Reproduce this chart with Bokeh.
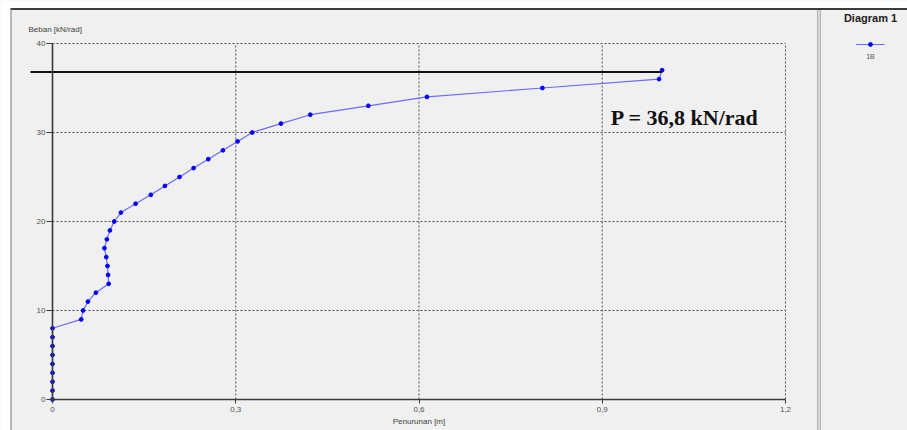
from bokeh.plotting import figure
from bokeh.models import Range1d, FixedTicker, LinearAxis, ColumnDataSource
from bokeh.core.properties import value
from bokeh.embed import file_html
from bokeh.resources import INLINE

# Load test curve: load (kN/rad) against settlement (m)
beban = [0, 1, 2, 3, 4, 5, 6, 7, 8, 9, 10, 11, 12, 13, 14, 15, 16, 17, 18, 19,
         20, 21, 22, 23, 24, 25, 26, 27, 28, 29, 30, 31, 32, 33, 34, 35, 36, 37]
penurunan = [0, 0, 0, 0, 0, 0, 0, 0, 0,
             0.047, 0.050, 0.058, 0.071, 0.092, 0.091, 0.090, 0.088, 0.085,
             0.089, 0.094, 0.101, 0.112, 0.136, 0.161, 0.184, 0.208, 0.231,
             0.255, 0.279, 0.303, 0.327, 0.374, 0.422, 0.517, 0.613, 0.802,
             0.993, 0.998]

ultimate_load = 36.8
ultimate_text = "P = 36,8 kN/rad"
series_name = "1B"
panel_title = "Diagram 1"

x_ticks = [0, 0.3, 0.6, 0.9, 1.2]
x_tick_labels = ["0", "0,3", "0,6", "0,9", "1,2"]
y_ticks = [0, 10, 20, 30, 40]
y_tick_labels = ["0", "10", "20", "30", "40"]

# canvas geometry (pixels) of the plotting area inside the window
W, H = 907, 430
FL, FR, FT, FB = 52, 785, 43, 399
X0, X1 = 0.0, 1.2
Y0, Y1 = 0.0, 40.0


def px_x(px):
    return X0 + (px - FL) * (X1 - X0) / (FR - FL)


def px_y(py):
    return Y0 + (FB - py) * (Y1 - Y0) / (FB - FT)


BG = "#f0f0f0"
p = figure(width=W, height=H, output_backend="svg", toolbar_location=None,
           x_range=Range1d(px_x(0), px_x(W)), y_range=Range1d(px_y(H), px_y(0)),
           x_axis_type=None, y_axis_type=None, min_border=0,
           background_fill_color=BG, border_fill_color=BG,
           outline_line_color=None)
p.xgrid.visible = False
p.ygrid.visible = False

# window chrome: white margins, frame lines, side panel divider
p.quad(left=[px_x(0), px_x(0)], right=[px_x(W), px_x(10)],
       top=[px_y(0), px_y(0)], bottom=[px_y(8), px_y(H)],
       fill_color="white", line_color=None)
p.segment(x0=[px_x(10), px_x(10.5)], x1=[px_x(W), px_x(10.5)],
          y0=[px_y(8.5), px_y(8)], y1=[px_y(8.5), px_y(H)],
          line_color=["#3c3c3c", "#7a7a7a"], line_width=[2, 1])
p.quad(left=[px_x(816.5)], right=[px_x(820.5)], top=[px_y(9.5)], bottom=[px_y(H)],
       fill_color="#d6d6d6", line_color=None)
p.segment(x0=[px_x(817), px_x(820)], x1=[px_x(817), px_x(820)],
          y0=[px_y(9.5), px_y(9.5)], y1=[px_y(H), px_y(H)],
          line_color="#b4b4b4", line_width=1)

# dotted grid over the plotting area
p.segment(x0=x_ticks[1:], x1=x_ticks[1:], y0=Y0, y1=Y1,
          line_color="#505050", line_dash="2 2", line_width=1)
p.segment(x0=X0, x1=X1, y0=y_ticks[1:], y1=y_ticks[1:],
          line_color="#505050", line_dash="2 2", line_width=1)

# axes pinned at the origin
xaxis = LinearAxis(fixed_location=0, bounds=(X0, X1),
                   ticker=FixedTicker(ticks=x_ticks))
yaxis = LinearAxis(fixed_location=0, bounds=(Y0, Y1),
                   ticker=FixedTicker(ticks=y_ticks))
xaxis.major_label_overrides = dict(zip(x_ticks, x_tick_labels))
yaxis.major_label_overrides = dict(zip(y_ticks, y_tick_labels))
for ax in (xaxis, yaxis):
    ax.axis_line_color = "#3a3a3a"
    ax.axis_line_width = 1.6
    ax.major_tick_line_color = "#3a3a3a"
    ax.major_tick_in = 0
    ax.minor_tick_line_color = None
    ax.major_label_text_font = "Liberation Sans"
    ax.major_label_text_font_size = "8px"
    ax.major_label_text_color = "#505050"
xaxis.major_tick_out = 4
xaxis.major_label_standoff = 3
yaxis.major_tick_out = 6
yaxis.major_label_standoff = 1
p.add_layout(xaxis, "below")
p.add_layout(yaxis, "left")

# axis titles
p.text(x=[px_x(28)], y=[px_y(29)], text=["Beban [kN/rad]"],
       text_font=value("Liberation Sans"), text_font_size="8px",
       text_color="#404040", text_baseline="middle")
p.text(x=[(X0 + X1) / 2], y=[px_y(421)], text=["Penurunan [m]"],
       text_font=value("Liberation Sans"), text_font_size="8px",
       text_color="#404040", text_baseline="middle", text_align="center")

# load-settlement curve
src = ColumnDataSource(dict(x=penurunan, y=beban))
p.line("x", "y", source=src, line_color="#6a6aff", line_width=1.2)
p.scatter("x", "y", source=src, size=3.8, marker="circle",
          fill_color="#0000ff", line_color="#0000ff")

# ultimate load line, running past the vertical axis
p.segment(x0=[px_x(30)], x1=[penurunan[-1]], y0=[ultimate_load], y1=[ultimate_load],
          line_color="#111111", line_width=2)
p.text(x=[0.914], y=[31.7], text=[ultimate_text],
       text_font=value("Liberation Serif"), text_font_style="bold",
       text_font_size="22px", text_color="#111111", text_baseline="alphabetic")

# side panel legend
p.text(x=[px_x(870)], y=[px_y(17)], text=[panel_title],
       text_font=value("Liberation Sans"), text_font_style="bold",
       text_font_size="11px", text_color="#202020",
       text_align="center", text_baseline="middle")
p.segment(x0=[px_x(855.5)], x1=[px_x(884)], y0=[px_y(44)], y1=[px_y(44)],
          line_color="#6a6aff", line_width=1.2)
p.scatter(x=[px_x(870)], y=[px_y(44)], size=3.8, marker="circle",
          fill_color="#0000ff", line_color="#0000ff")
p.text(x=[px_x(870)], y=[px_y(56)], text=[series_name],
       text_font=value("Liberation Sans"), text_font_size="7px",
       text_color="#505050", text_align="center", text_baseline="middle")

open("out.html", "w").write(file_html(p, INLINE))
